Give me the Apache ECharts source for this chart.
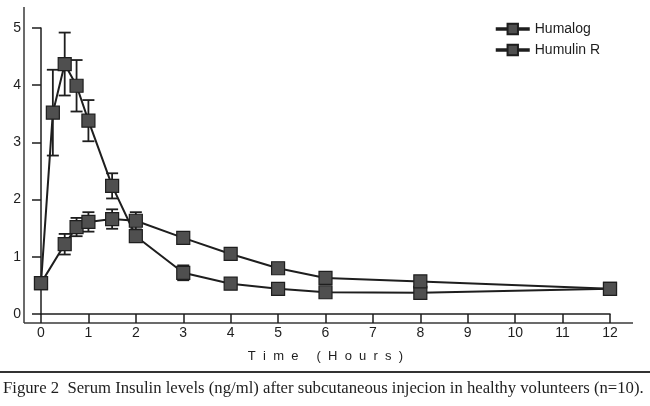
<!DOCTYPE html>
<html>
<head>
<meta charset="utf-8">
<script src="https://cdn.jsdelivr.net/npm/echarts@6/dist/echarts.min.js"></script>
<style>
  html, body { margin: 0; padding: 0; background: #fff; }
  #chartContainer { width: 650px; height: 406px; }
</style>
</head>
<body>
<div id="chartContainer"></div>
<script>
// values (ng/ml vs hours)
var HUMALOG_T = [0, 0.25, 0.5, 0.75, 1, 1.5, 2, 3, 4, 5, 6, 8, 12];
var HUMALOG_Y = [0.54, 3.52, 4.37, 3.99, 3.38, 2.24, 1.36, 0.72, 0.53, 0.44, 0.38, 0.37, 0.44];
var HUMALOG_ERR = [0, 0.75, 0.55, 0.45, 0.36, 0.22, 0.1, 0.13, 0, 0, 0, 0, 0];

var HUMULIN_T = [0, 0.5, 0.75, 1, 1.5, 2, 3, 4, 5, 6, 8, 12];
var HUMULIN_Y = [0.54, 1.22, 1.52, 1.61, 1.66, 1.63, 1.33, 1.05, 0.80, 0.63, 0.57, 0.44];
var HUMULIN_ERR = [0, 0.18, 0.16, 0.17, 0.17, 0.15, 0, 0, 0, 0, 0, 0];

var X_TICKS = [0, 1, 2, 3, 4, 5, 6, 7, 8, 9, 10, 11, 12];
var Y_TICKS = [0, 1, 2, 3, 4, 5];

var INK = '#1e1e1e';
var FILL = '#4f4f4f';

function points(ts, ys) {
  return ts.map((t, i) => [t, ys[i]]);
}

function errorData(ts, ys, errs) {
  let out = [];
  for (let i = 0; i < ts.length; i++) {
    if (errs[i] > 0) out.push([ts[i], ys[i] - errs[i], ys[i] + errs[i]]);
  }
  return out;
}

function renderError(params, api) {
  let lo = api.coord([api.value(0), api.value(1)]);
  let hi = api.coord([api.value(0), api.value(2)]);
  let w = 6;
  let style = { stroke: INK, lineWidth: 1.8 };
  return {
    type: 'group',
    children: [
      { type: 'line', shape: { x1: lo[0], y1: lo[1], x2: hi[0], y2: hi[1] }, style: style },
      { type: 'line', shape: { x1: lo[0] - w, y1: lo[1], x2: lo[0] + w, y2: lo[1] }, style: style },
      { type: 'line', shape: { x1: hi[0] - w, y1: hi[1], x2: hi[0] + w, y2: hi[1] }, style: style }
    ]
  };
}

var lineStyle = { color: INK, width: 2 };
var itemStyle = { color: FILL, borderColor: INK, borderWidth: 1.2 };

var CHART_OPTION = {
  animation: false,
  backgroundColor: '#ffffff',
  textStyle: { fontFamily: 'Liberation Sans, Arial, sans-serif' },
  grid: { left: 41, right: 40, top: 28, bottom: 92 },
  legend: {
    orient: 'vertical',
    left: 489,
    top: 17,
    itemWidth: 34,
    itemHeight: 13,
    itemGap: 7,
    lineStyle: { width: 3.5 },
    textStyle: { fontSize: 14, color: INK },
    data: ['Humalog', 'Humulin R']
  },
  xAxis: {
    type: 'value',
    min: 0,
    max: 12,
    interval: 1,
    name: 'T  i  m  e     (  H  o  u  r  s  )',
    nameLocation: 'middle',
    nameGap: 36,
    nameTextStyle: { fontSize: 13, color: INK },
    axisLine: { lineStyle: { color: INK, width: 1.5 } },
    axisTick: { length: 9, lineStyle: { color: INK, width: 1.5 } },
    axisLabel: {
      fontSize: 14, color: INK, margin: 12,
      formatter: v => X_TICKS.includes(v) ? String(v) : ''
    },
    splitLine: { show: false }
  },
  yAxis: {
    type: 'value',
    min: 0,
    max: 5,
    interval: 1,
    axisLine: { show: true, lineStyle: { color: INK, width: 1.5 } },
    axisTick: { show: true, length: 9, lineStyle: { color: INK, width: 1.5 } },
    axisLabel: {
      fontSize: 14, color: INK, margin: 20,
      formatter: v => Y_TICKS.includes(v) ? String(v) : ''
    },
    splitLine: { show: false }
  },
  graphic: [
    { type: 'line', shape: { x1: 24, y1: 7, x2: 24, y2: 323 }, style: { stroke: '#3a3a3a', lineWidth: 1.5 } },
    { type: 'line', shape: { x1: 24, y1: 323, x2: 633, y2: 323 }, style: { stroke: '#3a3a3a', lineWidth: 1.5 } },
    { type: 'line', shape: { x1: 0, y1: 372, x2: 650, y2: 372 }, style: { stroke: '#333', lineWidth: 2 } },
    {
      type: 'text', left: 3, top: 380,
      style: {
        text: 'Figure 2  Serum Insulin levels (ng/ml) after subcutaneous injecion in healthy volunteers (n=10).',
        font: '16.7px "Liberation Serif", "Times New Roman", serif',
        fill: INK
      }
    }
  ],
  series: [
    {
      name: 'Humalog',
      type: 'line',
      data: points(HUMALOG_T, HUMALOG_Y),
      symbol: 'rect',
      symbolSize: 13,
      lineStyle: lineStyle,
      itemStyle: itemStyle,
      z: 3
    },
    {
      name: 'Humulin R',
      type: 'line',
      data: points(HUMULIN_T, HUMULIN_Y),
      symbol: 'rect',
      symbolSize: 13,
      lineStyle: lineStyle,
      itemStyle: itemStyle,
      z: 3
    },
    {
      type: 'custom',
      renderItem: renderError,
      data: errorData(HUMALOG_T, HUMALOG_Y, HUMALOG_ERR),
      encode: { x: 0, y: [1, 2] },
      z: 2
    },
    {
      type: 'custom',
      renderItem: renderError,
      data: errorData(HUMULIN_T, HUMULIN_Y, HUMULIN_ERR),
      encode: { x: 0, y: [1, 2] },
      z: 2
    }
  ]
};

var CHART = echarts.init(document.getElementById('chartContainer'), null, { renderer: 'canvas' });
CHART.setOption(CHART_OPTION);
</script>
</body>
</html>
